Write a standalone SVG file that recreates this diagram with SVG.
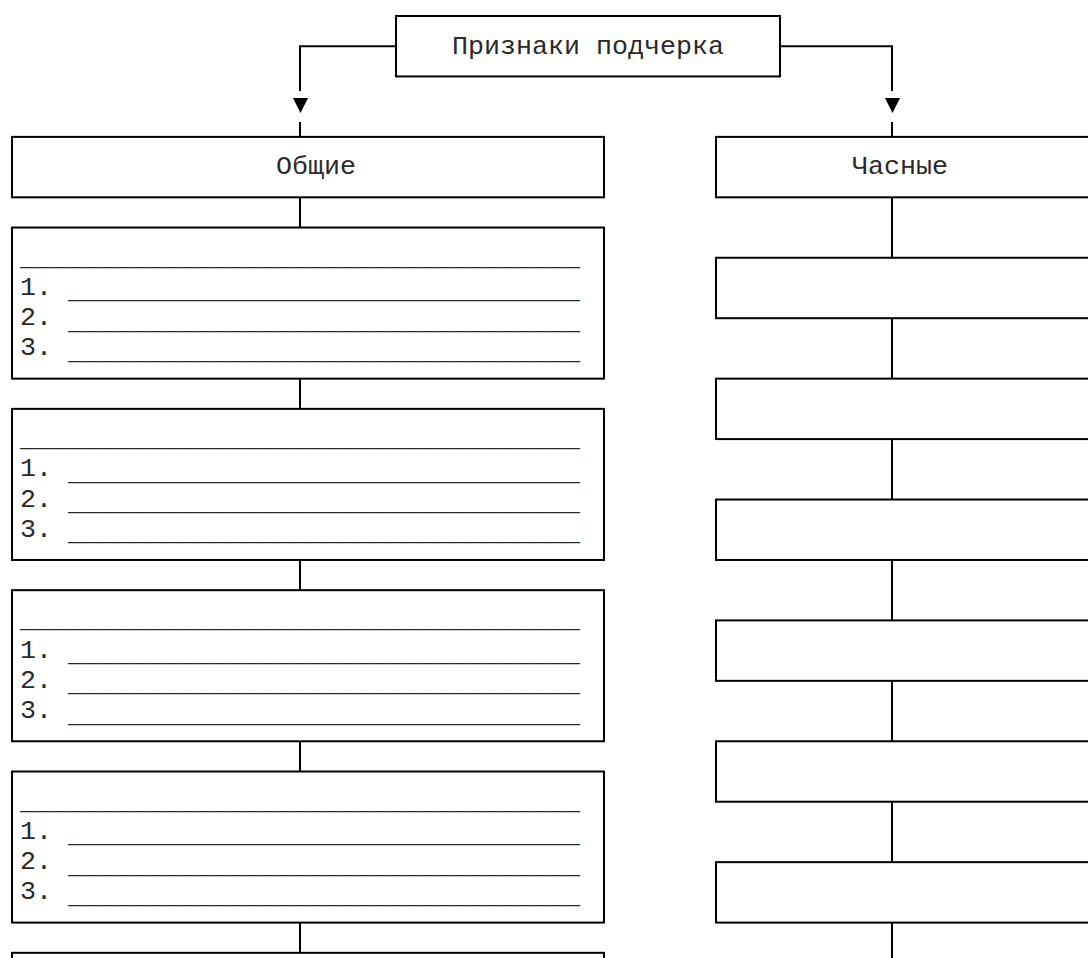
<svg xmlns="http://www.w3.org/2000/svg" width="1088" height="958" viewBox="0 0 1088 958">
<style>
.box{fill:#fff;stroke:#000;stroke-width:2}
.ln{fill:none;stroke:#000;stroke-width:2}
.t{font-family:"Liberation Mono","Courier New",monospace;font-size:26.667px;fill:#2a2a2a}
</style>
<defs>
<path id="tri" d="M-7.5,0 L7.5,0 L0,15 Z" fill="#000"/>
</defs>
<rect width="1088" height="958" fill="#fff"/>
<g id="connectors">
<path class="ln" d="M396,46.22 H300 V91 M300,122 V136.88"/>
<use href="#tri" x="300.5" y="98"/>
<path class="ln" d="M780,46.22 H892 V91 M892,122 V136.88"/>
<use href="#tri" x="892.5" y="98"/>
<path class="ln" d="M300,197.32 V227.54 M300,378.64 V408.86 M300,559.96 V590.18 M300,741.28 V771.5 M300,922.6 V952.82"/>
<path class="ln" d="M892,197.32 V257.76 M892,318.2 V378.64 M892,439.08 V499.52 M892,559.96 V620.4 M892,680.84 V741.28 M892,801.72 V862.16 M892,922.6 V960"/>
</g>
<g id="root">
<rect class="box" x="396" y="16" width="384" height="60.44"/>
<text class="t" x="452" y="53.5">Признаки подчерка</text>
</g>
<g id="general">
<rect class="box" x="12" y="136.88" width="592" height="60.44"/>
<text class="t" x="276" y="174.3">Общие</text>
</g>
<g id="partial">
<rect class="box" x="716" y="136.88" width="500" height="60.44"/>
<text class="t" x="852" y="174.3">Часные</text>
</g>
<g id="g1">
<rect class="box" x="12" y="227.54" width="592" height="151.1"/>
<text class="t" x="20" y="264.76">___________________________________<tspan x="20" y="294.98">1. </tspan><tspan y="298.48">________________________________</tspan><tspan x="20" y="325.2">2. </tspan><tspan y="328.7">________________________________</tspan><tspan x="20" y="355.42">3. </tspan><tspan y="358.92">________________________________</tspan></text>
</g>
<g id="g2">
<rect class="box" x="12" y="408.86" width="592" height="151.1"/>
<text class="t" x="20" y="446.08">___________________________________<tspan x="20" y="476.3">1. </tspan><tspan y="479.8">________________________________</tspan><tspan x="20" y="506.52">2. </tspan><tspan y="510.02">________________________________</tspan><tspan x="20" y="536.74">3. </tspan><tspan y="540.24">________________________________</tspan></text>
</g>
<g id="g3">
<rect class="box" x="12" y="590.18" width="592" height="151.1"/>
<text class="t" x="20" y="627.4">___________________________________<tspan x="20" y="657.62">1. </tspan><tspan y="661.12">________________________________</tspan><tspan x="20" y="687.84">2. </tspan><tspan y="691.34">________________________________</tspan><tspan x="20" y="718.06">3. </tspan><tspan y="721.56">________________________________</tspan></text>
</g>
<g id="g4">
<rect class="box" x="12" y="771.5" width="592" height="151.1"/>
<text class="t" x="20" y="808.72">___________________________________<tspan x="20" y="838.94">1. </tspan><tspan y="842.44">________________________________</tspan><tspan x="20" y="869.16">2. </tspan><tspan y="872.66">________________________________</tspan><tspan x="20" y="899.38">3. </tspan><tspan y="902.88">________________________________</tspan></text>
</g>
<g id="g5">
<rect class="box" x="12" y="952.82" width="592" height="151.1"/>
</g>
<g id="p1"><rect class="box" x="716" y="257.76" width="500" height="60.44"/></g>
<g id="p2"><rect class="box" x="716" y="378.64" width="500" height="60.44"/></g>
<g id="p3"><rect class="box" x="716" y="499.52" width="500" height="60.44"/></g>
<g id="p4"><rect class="box" x="716" y="620.4" width="500" height="60.44"/></g>
<g id="p5"><rect class="box" x="716" y="741.28" width="500" height="60.44"/></g>
<g id="p6"><rect class="box" x="716" y="862.16" width="500" height="60.44"/></g>
</svg>
